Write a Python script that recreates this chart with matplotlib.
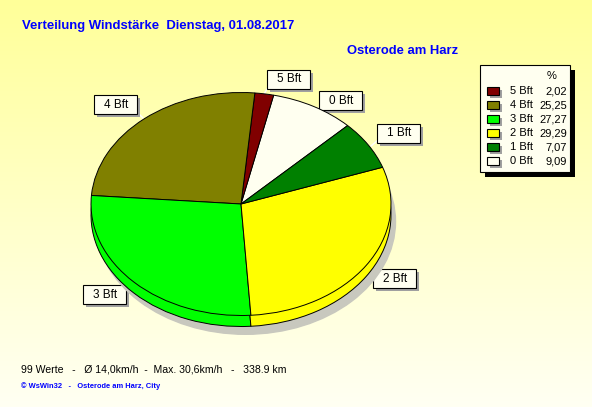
import matplotlib
matplotlib.use("Agg")
import matplotlib.pyplot as plt
from matplotlib.patches import Rectangle, Ellipse
import numpy as np

# data (legend order)
labels = ["5 Bft", "4 Bft", "3 Bft", "2 Bft", "1 Bft", "0 Bft"]
percent = [2.02, 25.25, 27.27, 29.29, 7.07, 9.09]
colors = ["#800000", "#808000", "#00ff00", "#ffff00", "#008000", "#fffff0"]
pie_order = ["0 Bft", "5 Bft", "4 Bft", "3 Bft", "2 Bft", "1 Bft"]

title = "Verteilung Windstärke  Dienstag, 01.08.2017"
station = "Osterode am Harz"
summary = "99 Werte   -   Ø 14,0km/h  -  Max. 30,6km/h   -   338.9 km"
footer = "© WsWin32   -   Osterode am Harz, City"

# label box centres in pixels
label_pos = {"5 Bft": (288, 79), "0 Bft": (340, 100), "1 Bft": (398, 133),
             "2 Bft": (394, 278), "3 Bft": (104, 294), "4 Bft": (115, 104)}
leader = {"5 Bft": ((267, 89), (264, 94)), "0 Bft": ((319, 108), (317, 112)),
          "1 Bft": ((377, 141), (371, 146)), "2 Bft": ((373, 270), (366, 266)),
          "3 Bft": ((126, 286), (131, 281)), "4 Bft": ((137, 112), (143, 118))}

W, H = 592, 407
FONT = "Liberation Sans"

fig = plt.figure(figsize=(W / 100, H / 100), dpi=100)

# background with pixel coordinates
bg = fig.add_axes([0, 0, 1, 1])
bg.set_xlim(0, W)
bg.set_ylim(H, 0)
bg.axis("off")
top = np.array([255, 255, 153]) / 255
bot = np.array([255, 255, 243]) / 255
t = np.linspace(0, 1, 200)[:, None, None]
grad = top * (1 - t) + bot * t
grad = np.repeat(grad, 2, axis=1)
bg.imshow(grad, extent=[0, W, H, 0], aspect="auto", zorder=0)

# pie axes: centre (241, 204) px, rx 150, ry 111.5
cx, cy, rx, ry = 241, 204, 150, 111.5
xl, yl = (-1.2, 1.2), (-1.4, 1.2)
left = cx + xl[0] * rx
right = cx + xl[1] * rx
ptop = cy - yl[1] * ry
pbot = cy - yl[0] * ry
pax = fig.add_axes([left / W, (H - pbot) / H, (right - left) / W, (pbot - ptop) / H])
pax.patch.set_alpha(0)

depth = 11 / ry
vals = [percent[labels.index(l)] for l in pie_order]
cols = [colors[labels.index(l)] for l in pie_order]

shadow = Ellipse((0.03, -depth - 0.06), 2.0, 2.02, color="#c8c8be", zorder=0)
pax.add_patch(shadow)
wp = dict(edgecolor="black", linewidth=0.7)
pax.pie(vals, colors=cols, startangle=44.7, counterclock=True,
        center=(0, -depth), wedgeprops=wp)
pax.pie(vals, colors=cols, startangle=44.7, counterclock=True,
        center=(0, 0), wedgeprops=wp)
pax.set_aspect("auto")
pax.set_xlim(*xl)
pax.set_ylim(*yl)
pax.axis("off")

# label boxes
bw, bh = 43, 19
for lab in labels:
    x, y = label_pos[lab]
    (x1, y1), (x2, y2) = leader[lab]
    bg.plot([x1, x2], [y1, y2], color="white", lw=1, zorder=4)
    bg.add_patch(Rectangle((x - bw / 2 + 3, y - bh / 2 + 3), bw, bh,
                           facecolor="#a0a0a0", edgecolor="none", zorder=5))
    bg.add_patch(Rectangle((x - bw / 2, y - bh / 2), bw, bh, facecolor="#fffff0",
                           edgecolor="black", lw=0.8, zorder=6))
    bg.text(x + 1, y + 0.5, lab, ha="center", va="center", fontsize=8.5,
            family=FONT, zorder=7)

# legend
bg.add_patch(Rectangle((485, 70), 90, 107, facecolor="black", zorder=5))
bg.add_patch(Rectangle((480, 65), 90, 107, facecolor="#fffff0",
                       edgecolor="black", lw=0.8, zorder=6))
bg.text(552, 76, "%", ha="center", va="center", fontsize=8, family=FONT, zorder=7)
for i, lab in enumerate(labels):
    y = 91 + i * 14
    bg.add_patch(Rectangle((490, y - 1), 12, 8, facecolor="#a0a0a0",
                           edgecolor="none", zorder=7))
    bg.add_patch(Rectangle((487, y - 4), 12, 8, facecolor=colors[i],
                           edgecolor="black", lw=0.8, zorder=8))
    bg.text(510, y, lab, ha="left", va="center", fontsize=8, family=FONT, zorder=8)
    bg.text(567, y, f"{percent[i]:.2f}".replace(".", ","), ha="right",
            va="center", fontsize=8, family=FONT, zorder=8)

# texts
bg.text(22, 29, title, ha="left", va="baseline", fontsize=9.45, fontweight="bold",
        color="#0000ff", family=FONT)
bg.text(458, 54, station, ha="right", va="baseline", fontsize=9.4,
        fontweight="bold", color="#0000ff", family=FONT)
bg.text(21, 372.5, summary, ha="left", va="baseline", fontsize=7.6,
        color="black", family=FONT)
bg.text(21, 388, footer, ha="left", va="baseline", fontsize=5.4,
        fontweight="bold", color="#0000ff", family=FONT)

fig.savefig("out.png", dpi=100)
